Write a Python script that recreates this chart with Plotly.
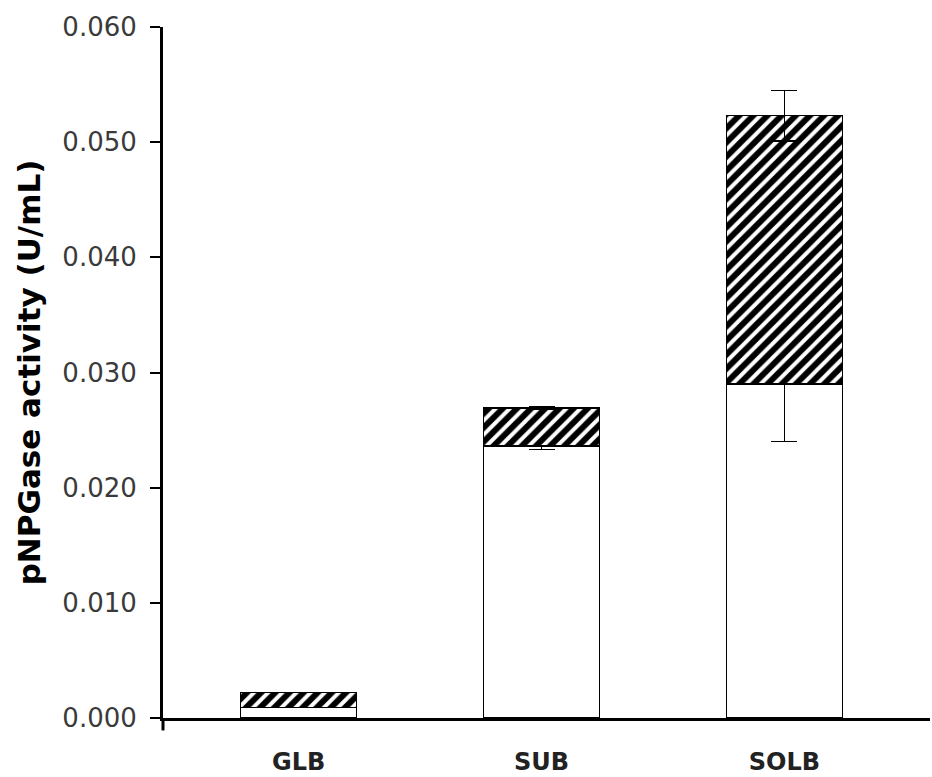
import plotly.graph_objects as go

categories = ["GLB", "SUB", "SOLB"]
base_values = [0.0009, 0.0236, 0.0290]
base_errors = [0.0, 0.0003, 0.0050]
top_values = [0.0013, 0.0033, 0.0233]
top_errors = [0.0, 0.0001, 0.0022]
y_ticks = [0.0, 0.01, 0.02, 0.03, 0.04, 0.05, 0.06]
y_tick_text = ["0.000", "0.010", "0.020", "0.030", "0.040", "0.050", "0.060"]

fig = go.Figure()
fig.add_trace(go.Bar(
    x=categories, y=base_values, width=0.478,
    marker=dict(color="white", line=dict(color="black", width=1.5)),
    error_y=dict(type="data", array=base_errors, color="black", thickness=1.5, width=13),
    showlegend=False,
))
fig.add_trace(go.Bar(
    x=categories, y=top_values, width=0.478,
    marker=dict(color="white", line=dict(color="black", width=1.5),
                pattern=dict(shape="/", fgcolor="black", bgcolor="white", fgopacity=1,
                             size=10, solidity=0.6)),
    error_y=dict(type="data", array=top_errors, color="black", thickness=1.5, width=13),
    showlegend=False,
))

fig.update_layout(
    width=932, height=777,
    barmode="stack",
    paper_bgcolor="white", plot_bgcolor="white",
    margin=dict(l=163, r=2, t=27, b=59),
    font=dict(family="DejaVu Sans", color="#333333"),
    xaxis=dict(
        type="category", range=[-0.558, 2.599], automargin=False,
        showline=True, linecolor="black", linewidth=3,
        ticks="", showgrid=False,
        tickfont=dict(family="DejaVu Sans", size=24, color="#222222", weight="bold"),
        ticklabelstandoff=20,
    ),
    yaxis=dict(
        range=[0, 0.06], tickvals=y_ticks, ticktext=y_tick_text, automargin=False,
        showline=True, linecolor="black", linewidth=3,
        ticks="outside", ticklen=10, tickwidth=1.5, tickcolor="black",
        showgrid=False, zeroline=False,
        tickfont=dict(family="DejaVu Sans", size=26, color="#3a3a3a"),
        ticklabelstandoff=8,
        title=dict(text="<b>pNPGase activity (U/mL)</b>",
                   font=dict(family="DejaVu Sans", size=31, color="black"),
                   standoff=13),
    ),
)
fig.add_shape(type="line", xref="paper", yref="paper", x0=0, x1=0, y0=0, y1=-0.018,
              line=dict(color="black", width=3))

fig.write_html("out.html", config={"displayModeBar": False},
               post_script="document.body.style.margin='0';")
